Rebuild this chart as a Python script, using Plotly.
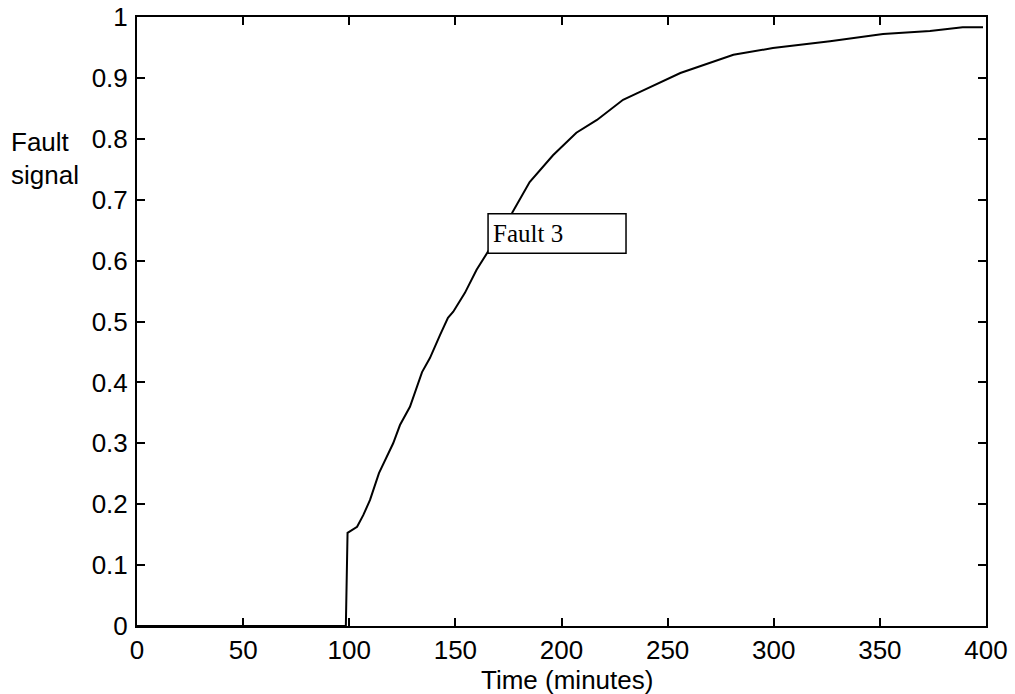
import plotly.graph_objects as go

time_min = [0, 98.4, 99.2, 101, 103.7, 106.6, 109.8, 114, 117.6, 120.7, 123.9, 128.6,
            134.3, 138, 142.8, 146.5, 149, 154.5, 160, 165.4, 171, 176.7, 185, 196,
            207, 216.7, 229, 237, 256, 281, 299.6, 326.5, 351.5, 373.6, 389, 398.6]
fault_signal = [0, 0, 0.153, 0.157, 0.163, 0.182, 0.207, 0.251, 0.278, 0.30, 0.33, 0.36,
                0.417, 0.44, 0.478, 0.506, 0.516, 0.547, 0.585, 0.614, 0.646, 0.678, 0.729, 0.773,
                0.81, 0.831, 0.864, 0.877, 0.908, 0.938, 0.949, 0.96, 0.972, 0.977, 0.983, 0.983]

x_ticks = [0, 50, 100, 150, 200, 250, 300, 350, 400]
y_ticks = [0, 0.1, 0.2, 0.3, 0.4, 0.5, 0.6, 0.7, 0.8, 0.9, 1]
y_tick_text = ["0", "0.1", "0.2", "0.3", "0.4", "0.5", "0.6", "0.7", "0.8", "0.9", "1"]

font_sans = "Liberation Sans, Arial, sans-serif"
font_serif = "Liberation Serif, Times New Roman, serif"

fig = go.Figure()
fig.add_trace(go.Scatter(x=time_min, y=fault_signal, mode="lines",
                         line=dict(color="black", width=2), showlegend=False,
                         hoverinfo="skip"))

axis_common = dict(showline=True, linecolor="black", linewidth=2, mirror="ticks",
                   ticks="inside", ticklen=8, tickwidth=1.5, tickcolor="black",
                   showgrid=False, zeroline=False, automargin=False,
                   tickfont=dict(family=font_sans, size=26, color="black"))

fig.update_xaxes(range=[0, 400], tickvals=x_ticks, ticktext=[str(v) for v in x_ticks],
                 ticklabelstandoff=0, **axis_common)
fig.update_yaxes(range=[0, 1], tickvals=y_ticks, ticktext=y_tick_text,
                 ticklabelstandoff=2, **axis_common)

# x-axis title
fig.add_annotation(x=0.5065, y=-0.0887, xref="paper", yref="paper", text="Time (minutes)",
                   showarrow=False, xanchor="center", yanchor="middle",
                   font=dict(family=font_sans, size=26, color="black"))

# y-axis title (two lines, placed separately for tighter spacing)
fig.add_annotation(x=-0.1508, y=0.795, xref="paper", yref="paper", text="Fault",
                   showarrow=False, xanchor="left", yanchor="middle",
                   font=dict(family=font_sans, size=26, color="black"))
fig.add_annotation(x=-0.1508, y=0.7406, xref="paper", yref="paper", text="signal",
                   showarrow=False, xanchor="left", yanchor="middle",
                   font=dict(family=font_sans, size=26, color="black"))

# Label box
fig.add_shape(type="rect", xref="x", yref="y", x0=165.4, x1=230.4, y0=0.612, y1=0.677,
              line=dict(color="black", width=1.5), fillcolor="white", layer="above")
fig.add_annotation(x=165.4, y=0.6445, xref="x", yref="y", text="Fault 3", showarrow=False,
                   xanchor="left", yanchor="middle", xshift=3,
                   font=dict(family=font_serif, size=25, color="black"))

fig.update_layout(width=1015, height=694, plot_bgcolor="white", paper_bgcolor="white",
                  margin=dict(l=137, r=29, t=17, b=68))

fig.write_html("out.html")
